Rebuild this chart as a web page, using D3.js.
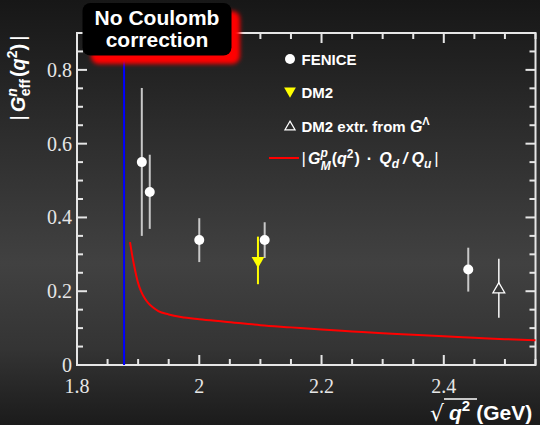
<!DOCTYPE html>
<html>
<head>
<meta charset="utf-8">
<script src="https://cdn.jsdelivr.net/npm/d3@7"></script>
<style>
  html, body { margin: 0; padding: 0; background: #1a1a1a; }
  svg { display: block; }
</style>
</head>
<body>
<svg id="chart" width="540" height="425"></svg>
<script>
// FENICE neutron effective form factor
const feniceX    = [1.906, 1.919, 2.000, 2.107, 2.440];
const feniceY    = [0.550, 0.469, 0.339, 0.339, 0.259];
const feniceLo   = [0.350, 0.369, 0.279, 0.290, 0.199];
const feniceHi   = [0.751, 0.570, 0.398, 0.387, 0.318];

// DM2 measurement
const dm2X  = [2.096];
const dm2Y  = [0.283];
const dm2Lo = [0.219];
const dm2Hi = [0.348];

// DM2 extraction from the Lambda form factor
const dm2LamX  = [2.490];
const dm2LamY  = [0.205];
const dm2LamLo = [0.128];
const dm2LamHi = [0.288];

// |G_M^p(q^2) * Q_d/Q_u| curve
const curveX = [1.8867, 1.890, 1.895, 1.900, 1.905, 1.910, 1.917, 1.925, 1.933, 1.950,
                1.970, 2.000, 2.042, 2.100, 2.150, 2.200, 2.250, 2.300, 2.350, 2.400,
                2.450, 2.500, 2.550];
const curveY = [0.333, 0.300, 0.257, 0.222, 0.199, 0.183, 0.167, 0.155, 0.146, 0.137,
                0.130, 0.124, 0.1175, 0.108, 0.102, 0.096, 0.091, 0.086, 0.082, 0.078,
                0.074, 0.070, 0.067];

// nucleon-antinucleon threshold
const thresholdX = 1.877;

const xTicks = [1.8, 2.0, 2.2, 2.4];
const xTickLabels = ["1.8", "2", "2.2", "2.4"];
const yTicks = [0, 0.2, 0.4, 0.6, 0.8];
const yTickLabels = ["0", "0.2", "0.4", "0.6", "0.8"];

const W = 540, H = 425;
const margin = {left: 77, right: 4.5, top: 33, bottom: 60};
const svg = d3.select("#chart");

const x = d3.scaleLinear().domain([1.8, 2.55]).range([margin.left, W - margin.right]);
const y = d3.scaleLinear().domain([0, 0.9]).range([H - margin.bottom, margin.top]);

// background
const defs = svg.append("defs");
const bg = defs.append("linearGradient").attr("id", "bg")
  .attr("x1", 0).attr("y1", 0).attr("x2", 0).attr("y2", 1);
bg.append("stop").attr("offset", "0%").attr("stop-color", "#171717");
bg.append("stop").attr("offset", "30%").attr("stop-color", "#2c2c2c");
bg.append("stop").attr("offset", "62%").attr("stop-color", "#414141");
bg.append("stop").attr("offset", "82%").attr("stop-color", "#343434");
bg.append("stop").attr("offset", "100%").attr("stop-color", "#1b1b1b");
svg.append("rect").attr("width", W).attr("height", H).attr("fill", "url(#bg)");

const glow = defs.append("filter").attr("id", "glow")
  .attr("x", "-20%").attr("y", "-30%").attr("width", "150%").attr("height", "180%");
glow.append("feGaussianBlur").attr("stdDeviation", 2.2);

const axisColor = "#e6e6e6";
const plotBottom = H - margin.bottom, plotTop = margin.top;
const plotLeft = margin.left, plotRight = W - margin.right;

// tick positions: majors every 0.2, minors every 0.05
const xMinor = d3.range(0, 16).map(i => +(1.8 + i * 0.05).toFixed(3)).filter(v => v <= 2.55);
const yMinor = d3.range(0, 19).map(i => +(i * 0.05).toFixed(3)).filter(v => v <= 0.9);
const isMajor = v => Math.abs(v * 5 - Math.round(v * 5)) < 1e-6;

const ticks = svg.append("g").attr("stroke", axisColor).attr("stroke-width", 2);
// bottom and top edges, ticks pointing inward
ticks.selectAll("line.xb").data(xMinor).join("line").attr("class", "xb")
  .attr("x1", d => x(d)).attr("x2", d => x(d))
  .attr("y1", plotBottom).attr("y2", d => plotBottom - (isMajor(d) ? 10 : 6));
ticks.selectAll("line.xt").data(xMinor).join("line").attr("class", "xt")
  .attr("x1", d => x(d)).attr("x2", d => x(d))
  .attr("y1", plotTop).attr("y2", d => plotTop + (isMajor(d) ? 10 : 6));
// left and right edges
ticks.selectAll("line.yl").data(yMinor).join("line").attr("class", "yl")
  .attr("y1", d => y(d)).attr("y2", d => y(d))
  .attr("x1", plotLeft).attr("x2", d => plotLeft + (isMajor(d) ? 10 : 6));
ticks.selectAll("line.yr").data(yMinor).join("line").attr("class", "yr")
  .attr("y1", d => y(d)).attr("y2", d => y(d))
  .attr("x1", plotRight).attr("x2", d => plotRight - (isMajor(d) ? 10 : 6));

// tick labels
const serif = "'Liberation Serif', 'DejaVu Serif', serif";
svg.append("g").selectAll("text").data(xTicks).join("text")
  .attr("x", d => x(d)).attr("y", plotBottom + 28)
  .attr("text-anchor", "middle").attr("fill", axisColor)
  .style("font-family", serif).style("font-size", "20px")
  .text((d, i) => xTickLabels[i]);
svg.append("g").selectAll("text").data(yTicks).join("text")
  .attr("x", plotLeft - 5).attr("y", d => y(d) + 7)
  .attr("text-anchor", "end").attr("fill", axisColor)
  .style("font-family", serif).style("font-size", "20px")
  .text((d, i) => yTickLabels[i]);

// frame
svg.append("rect")
  .attr("x", plotLeft).attr("y", plotTop)
  .attr("width", plotRight - plotLeft).attr("height", plotBottom - plotTop)
  .attr("fill", "none").attr("stroke", axisColor).attr("stroke-width", 2);

// threshold line
svg.append("line")
  .attr("x1", x(thresholdX)).attr("x2", x(thresholdX))
  .attr("y1", plotBottom).attr("y2", plotTop)
  .attr("stroke", "#0000ff").attr("stroke-width", 2);

// proton-derived curve
const curve = curveX.map((v, i) => [v, curveY[i]]);
svg.append("path").datum(curve)
  .attr("fill", "none").attr("stroke", "#ff0000").attr("stroke-width", 2)
  .attr("d", d3.line().x(d => x(d[0])).y(d => y(d[1])).curve(d3.curveMonotoneX));

// error bars
function errBars(xs, lo, hi, color, w) {
  svg.append("g").selectAll("line").data(xs).join("line")
    .attr("x1", d => x(d)).attr("x2", d => x(d))
    .attr("y1", (d, i) => y(lo[i])).attr("y2", (d, i) => y(hi[i]))
    .attr("stroke", color).attr("stroke-width", w);
}
errBars(feniceX, feniceLo, feniceHi, "#c8c8c8", 2);
errBars(dm2X, dm2Lo, dm2Hi, "#ffff00", 2);
errBars(dm2LamX, dm2LamLo, dm2LamHi, "#eeeeee", 1.6);

// FENICE points
svg.append("g").selectAll("circle").data(feniceX).join("circle")
  .attr("cx", d => x(d)).attr("cy", (d, i) => y(feniceY[i])).attr("r", 5)
  .attr("fill", "#ffffff");

// DM2 downward triangle
svg.append("g").selectAll("path").data(dm2X).join("path")
  .attr("transform", (d, i) => `translate(${x(d)},${y(dm2Y[i])}) rotate(180)`)
  .attr("d", d3.symbol().type(d3.symbolTriangle).size(70)).attr("fill", "#ffff00");

// DM2 (Lambda) open triangle
svg.append("g").selectAll("path").data(dm2LamX).join("path")
  .attr("transform", (d, i) => `translate(${x(d)},${y(dm2LamY[i])})`)
  .attr("d", d3.symbol().type(d3.symbolTriangle).size(60))
  .attr("fill", "#383838").attr("stroke", "#ffffff").attr("stroke-width", 1.3);

// legend
const sans = "'Liberation Sans', Arial, sans-serif";
const lg = svg.append("g").style("font-family", sans)
  .style("font-weight", "bold").style("font-size", "15px").attr("fill", "#ffffff");
lg.append("circle").attr("cx", 290).attr("cy", 59).attr("r", 5).attr("fill", "#fff");
lg.append("text").attr("x", 301.5).attr("y", 64.5).text("FENICE");
lg.append("path").attr("transform", "translate(290,91) rotate(180)")
  .attr("d", d3.symbol().type(d3.symbolTriangle).size(60)).attr("fill", "#ffff00");
lg.append("text").attr("x", 301.5).attr("y", 97.5).text("DM2");
lg.append("path").attr("transform", "translate(290,127)")
  .attr("d", d3.symbol().type(d3.symbolTriangle).size(45))
  .attr("fill", "none").attr("stroke", "#fff").attr("stroke-width", 1.2);
const t3 = lg.append("text").attr("x", 301.5).attr("y", 131.5);
t3.append("tspan").text("DM2 extr. from ");
t3.append("tspan").style("font-style", "italic").style("font-size", "16px").text("G");
t3.append("tspan").attr("dy", -7).style("font-size", "11px").text("Λ");
lg.append("line").attr("x1", 269).attr("x2", 299).attr("y1", 158).attr("y2", 158)
  .attr("stroke", "#ff0000").attr("stroke-width", 2);
const t4 = lg.append("text").attr("x", 301.5).attr("y", 163.5).style("font-size", "16px");
t4.append("tspan").style("font-weight", "normal").style("font-size", "17px").text("|");
t4.append("tspan").attr("dx", 2).style("font-style", "italic").text("G");
t4.append("tspan").attr("dy", -7).style("font-size", "12px").style("font-style", "italic").text("p");
t4.append("tspan").attr("dx", -7).attr("dy", 13).style("font-size", "12px").style("font-style", "italic").text("M");
t4.append("tspan").attr("dy", -6).attr("dx", 1).text("(");
t4.append("tspan").style("font-style", "italic").text("q");
t4.append("tspan").attr("dy", -6).style("font-size", "12px").text("2");
t4.append("tspan").attr("dy", 6).attr("dx", 1).text(")");
t4.append("tspan").attr("dx", 7).text("·");
t4.append("tspan").attr("dx", 7).style("font-style", "italic").text("Q");
t4.append("tspan").attr("dy", 4).style("font-size", "12px").style("font-style", "italic").text("d");
t4.append("tspan").attr("dy", -4).attr("dx", 4).style("font-style", "italic").text("/");
t4.append("tspan").attr("dx", 4).style("font-style", "italic").text("Q");
t4.append("tspan").attr("dy", 4).style("font-size", "12px").style("font-style", "italic").text("u");
t4.append("tspan").attr("dy", -4).attr("dx", 3).style("font-weight", "normal").style("font-size", "17px").text("|");

// y axis title
const yt = svg.append("text")
  .attr("transform", "translate(25,78) rotate(-90)")
  .attr("text-anchor", "middle").attr("fill", "#ffffff")
  .style("font-family", sans)
  .style("font-weight", "bold").style("font-size", "20px");
yt.append("tspan").style("font-weight", "normal").text("|");
yt.append("tspan").attr("dx", 3).style("font-style", "italic").text("G");
yt.append("tspan").attr("dy", -8).style("font-size", "14px").style("font-style", "italic").text("n");
yt.append("tspan").attr("dx", -8).attr("dy", 13).style("font-size", "14px").text("eff");
yt.append("tspan").attr("dx", 2).attr("dy", -5).text("(");
yt.append("tspan").style("font-style", "italic").text("q");
yt.append("tspan").attr("dy", -8).style("font-size", "14px").text("2");
yt.append("tspan").attr("dy", 8).text(")");
yt.append("tspan").attr("dx", 3).style("font-weight", "normal").text("|");

// x axis title
const xt = svg.append("g").attr("fill", "#ffffff")
  .style("font-family", sans).style("font-weight", "bold").style("font-size", "21px");
xt.append("text").attr("x", 430).attr("y", 421).style("font-weight", "normal")
  .style("font-family", "'DejaVu Sans', sans-serif").style("font-size", "22px").text("√");
xt.append("line").attr("x1", 444).attr("x2", 477).attr("y1", 399).attr("y2", 399)
  .attr("stroke", "#ffffff").attr("stroke-width", 1.5);
const xtt = xt.append("text").attr("x", 449).attr("y", 420);
xtt.append("tspan").style("font-style", "italic").text("q");
xtt.append("tspan").attr("dy", -9).style("font-size", "15px").text("2");
xtt.append("tspan").attr("dy", 9).attr("dx", 6).text("(GeV)");

// annotation box
svg.append("rect").attr("x", 91).attr("y", 11).attr("width", 149).attr("height", 53).attr("rx", 8)
  .attr("fill", "#ff0000").attr("filter", "url(#glow)");
svg.append("rect").attr("x", 82.5).attr("y", 3).attr("width", 149).attr("height", 52.5).attr("rx", 8)
  .attr("fill", "#000000");
const bt = svg.append("g").attr("fill", "#ffffff").attr("text-anchor", "middle")
  .style("font-family", sans).style("font-weight", "bold").style("font-size", "21px");
bt.append("text").attr("x", 157).attr("y", 25).text("No Coulomb");
bt.append("text").attr("x", 157).attr("y", 47).text("correction");
</script>
</body>
</html>
